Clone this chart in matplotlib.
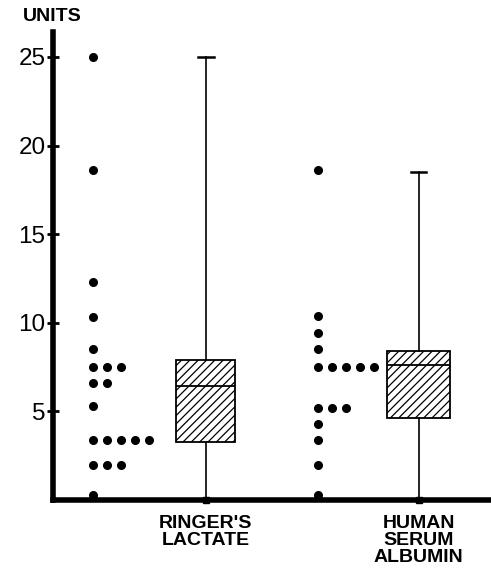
import matplotlib
matplotlib.use("Agg")
from matplotlib import pyplot as plt

plt.rcParams['font.family'] = ['Liberation Sans', 'DejaVu Sans']
plt.rcParams['hatch.linewidth'] = 0.9

groups = ["RINGER'S\nLACTATE", "HUMAN\nSERUM\nALBUMIN"]

# individual observations (units)
ringer = [25.0, 18.6, 12.3, 10.3, 8.5,
          7.5, 7.5, 7.5, 6.6, 6.6, 5.3,
          3.4, 3.4, 3.4, 3.4, 3.4,
          2.0, 2.0, 2.0, 0.3]
albumin = [18.6, 10.4, 9.4, 8.5,
           7.5, 7.5, 7.5, 7.5, 7.5,
           5.2, 5.2, 5.2, 4.3, 3.4, 2.0, 0.3]

# box summaries: q1, median, q3, whisker low, whisker high
q1 = [3.25, 4.6]
med = [6.45, 7.6]
q3 = [7.9, 8.4]
whislo = [0.0, 0.0]
whishi = [25.0, 18.5]

dot_x = [0.91, 6.05]
box_x = [3.49, 8.35]

fig = plt.figure(figsize=(4.91, 5.77), dpi=100)
ax = fig.add_axes([0.108, 0.1334, 0.892, 0.811])

# dot columns, repeated values stacked sideways
for vals, x0 in zip([ringer, albumin], dot_x):
    seen = {}
    xs = []
    for v in vals:
        k = seen.get(v, 0)
        seen[v] = k + 1
        xs.append(x0 + 0.32 * k)
    ax.plot(xs, vals, 'o', color='black', markersize=5.5, clip_on=False)

stats = []
for i in range(2):
    stats.append(dict(med=med[i], q1=q1[i], q3=q3[i],
                      whislo=whislo[i], whishi=whishi[i], fliers=[]))
bp = ax.bxp(stats, positions=box_x, widths=[1.35, 1.43], patch_artist=True,
            showfliers=False, capwidths=[0.35, 0.35],
            boxprops=dict(facecolor='white', edgecolor='black', linewidth=1.3, hatch='////'),
            medianprops=dict(color='black', linewidth=1.3),
            whiskerprops=dict(color='black', linewidth=1.2),
            capprops=dict(color='black', linewidth=1.8))
# small foot where each whisker meets the axis
ax.plot(box_x, whislo, 's', color='black', markersize=4, clip_on=False)

ax.set_xlim(0, 10)
ax.set_ylim(0, 26.4)
ax.set_yticks([5, 10, 15, 20, 25])
ax.set_yticklabels(['5', '10', '15', '20', '25'], fontsize=17.5)
ax.set_xticks(box_x)
ax.set_xticklabels(groups, fontsize=14, fontweight='bold', linespacing=1.0)
ax.tick_params(axis='y', direction='inout', length=9, width=2, pad=1)
ax.tick_params(axis='x', length=0, pad=11)
for s in ['top', 'right']:
    ax.spines[s].set_visible(False)
ax.spines['left'].set_linewidth(4)
ax.spines['bottom'].set_linewidth(4)

fig.text(0.106, 0.972, 'UNITS', fontsize=14, fontweight='bold', ha='center', va='center')

plt.savefig('out.png', dpi=100)
